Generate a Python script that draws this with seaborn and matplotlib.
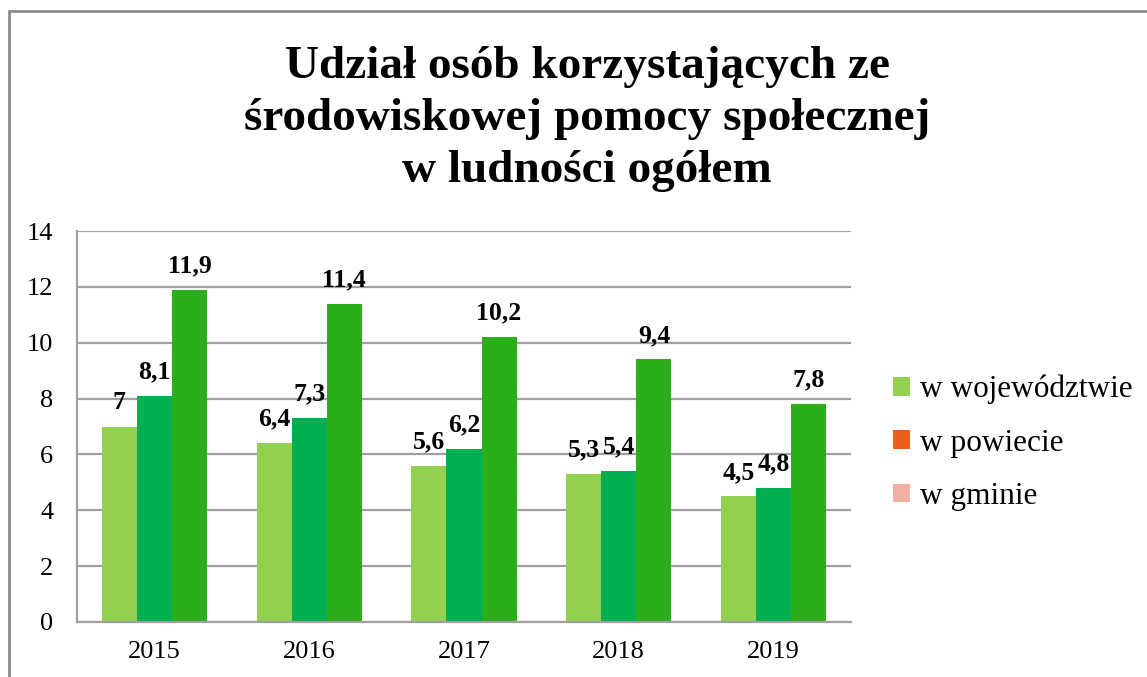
import matplotlib
matplotlib.use("Agg")
import matplotlib.pyplot as plt
from matplotlib.patches import Patch
from matplotlib.lines import Line2D
import pandas as pd
import seaborn as sns

# data
years = ["2015", "2016", "2017", "2018", "2019"]
series_names = ["w województwie", "w powiecie", "w gminie"]
wojewodztwo = [7.0, 6.4, 5.6, 5.3, 4.5]
powiat = [8.1, 7.3, 6.2, 5.4, 4.8]
gmina = [11.9, 11.4, 10.2, 9.4, 7.8]
labels_woj = ["7", "6,4", "5,6", "5,3", "4,5"]
labels_pow = ["8,1", "7,3", "6,2", "5,4", "4,8"]
labels_gm = ["11,9", "11,4", "10,2", "9,4", "7,8"]

bar_colors = ["#92D050", "#00B050", "#2CAE1A"]
legend_colors = ["#92D050", "#E8601C", "#F2B0A2"]

df = pd.DataFrame({
    "rok": years * 3,
    "seria": [series_names[0]] * 5 + [series_names[1]] * 5 + [series_names[2]] * 5,
    "wartosc": wojewodztwo + powiat + gmina,
})

sns.set_style("white")
plt.rcParams["font.family"] = ["Liberation Serif", "DejaVu Serif"]
plt.rcParams["text.color"] = "black"
plt.rcParams["xtick.color"] = "black"
plt.rcParams["ytick.color"] = "black"

fig = plt.figure(figsize=(11.47, 6.77), dpi=100)
ax = fig.add_axes([77 / 1147, 1 - 622 / 677, (851 - 77) / 1147, (622 - 231) / 677])

sns.barplot(
    data=df, x="rok", y="wartosc", hue="seria", palette=bar_colors,
    width=0.68, saturation=1, ax=ax, legend=False, errorbar=None,
    linewidth=0,
)

# data labels above bars
for container, labs in zip(ax.containers, [labels_woj, labels_pow, labels_gm]):
    for bar, lab in zip(container, labs):
        ax.annotate(
            lab, (bar.get_x() + bar.get_width() / 2, bar.get_height()),
            xytext=(0, 9), textcoords="offset points",
            ha="center", va="bottom", fontsize=18.5, fontweight="bold",
        )

ax.set_ylim(0, 14)
ax.set_yticks(range(0, 15, 2))
ax.set_xlim(-0.5, 4.5)
ax.set_xlabel("")
ax.set_ylabel("")
ax.grid(axis="y", color="#A0A0A0", linewidth=1.6)
ax.set_axisbelow(True)
ax.tick_params(axis="both", length=0, labelsize=19)
ax.tick_params(axis="x", pad=14)
ax.tick_params(axis="y", pad=17)
for side in ["top", "right"]:
    ax.spines[side].set_visible(False)
for side in ["left", "bottom"]:
    ax.spines[side].set_color("#A0A0A0")
    ax.spines[side].set_linewidth(1.6)

fig.text(
    0.512, 1 - 119 / 677,
    "Udział osób korzystających ze\nśrodowiskowej pomocy społecznej\nw ludności ogółem",
    ha="center", va="center", fontsize=34, fontweight="bold", linespacing=1.32,
)

handles = [Patch(facecolor=c, edgecolor="none") for c in legend_colors]
fig.legend(
    handles, series_names, loc="center left",
    bbox_to_anchor=(893 / 1147, 1 - 443 / 677), frameon=False,
    borderpad=0, borderaxespad=0,
    fontsize=22.5, handlelength=0.55, handleheight=0.55,
    handletextpad=0.3, labelspacing=0.78,
)

# outer chart frame (left and top edges visible)
fig.add_artist(Line2D([9 / 1147, 9 / 1147], [0, 1 - 11 / 677],
                      transform=fig.transFigure, color="#8C8C8C", linewidth=2))
fig.add_artist(Line2D([9 / 1147, 1], [1 - 11 / 677, 1 - 11 / 677],
                      transform=fig.transFigure, color="#8C8C8C", linewidth=2))

fig.savefig("out.png", dpi=100, facecolor="white")
